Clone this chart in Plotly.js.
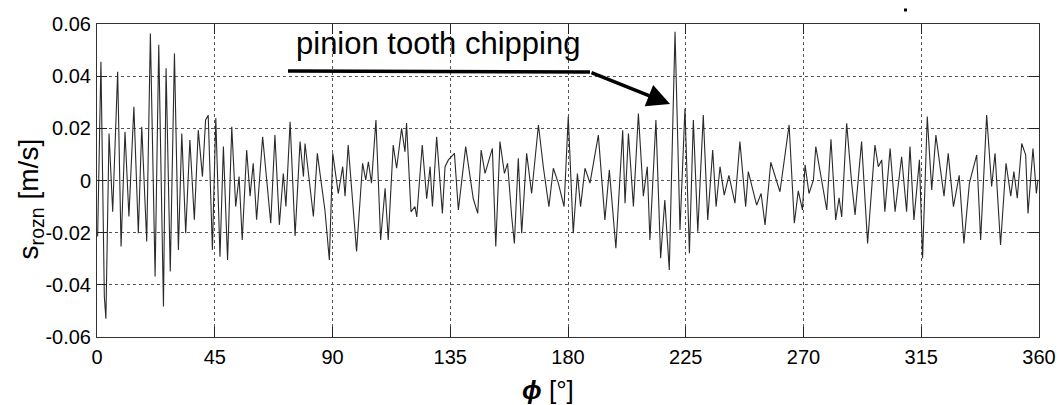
<!DOCTYPE html>
<html>
<head>
<meta charset="utf-8">
<script src="https://cdn.plot.ly/plotly-3.0.1.min.js"></script>
<style>
html,body{margin:0;padding:0;background:#fff;}
#chart{width:1060px;height:405px;}
</style>
</head>
<body>
<div id="chart"></div>
<script>
// angle phi [deg] and signal s_rozn [m/s] (extrema)
const phi = [
0.25,1.5,2.8,3.4,4.6,6.0,7.9,9.2,10.7,12.2,14.1,15.8,17.1,19.0,20.4,22.2,23.6,25.4,26.4,28.0,29.6,31.1,32.4,33.9,35.5,37.2,38.7,40.3,41.5,42.5,44.1,45.4,47.0,48.3,49.9,51.5,53.0,54.3,55.5,57.2,58.5,59.7,
61.0,63.3,66.4,68.0,69.7,71.2,72.2,73.8,75.7,77.6,78.9,79.5,82.7,84.2,87.1,88.8,90.1,92.2,93.9,94.8,96.0,98.0,99.2,101.5,102.7,103.7,104.9,106.6,108.4,110.1,111.3,113.2,114.5,116.4,117.7,118.3,
120.0,121.5,122.2,124.3,126.0,127.3,128.2,129.8,131.1,132.0,133.0,134.3,136.6,138.1,140.9,143.8,145.5,146.8,148.3,151.1,152.4,154.0,155.7,156.9,158.5,159.5,161.0,162.3,164.2,166.1,168.7,170.6,172.7,174.4,176.3,
178.5,180.1,182.0,183.6,184.8,186.5,188.4,191.6,194.1,195.8,198.3,200.9,201.8,203.1,205.0,206.9,208.8,210.3,211.3,213.6,215.4,217.0,218.7,220.9,222.8,224.7,226.4,227.9,229.6,231.7,233.4,235.3,236.6,
238.1,239.7,241.5,243.8,245.7,247.9,248.9,250.4,252.1,253.8,255.3,257.5,261.0,264.5,266.5,268.0,269.6,270.6,272.1,273.8,274.7,278.9,280.5,282.3,283.6,284.6,286.5,288.4,289.7,292.2,294.5,
297.3,298.6,299.9,301.1,303.1,305.0,307.5,309.4,310.7,312.2,314.3,315.5,317.3,319.0,320.6,323.7,325.3,327.3,329.5,331.3,333.4,336.2,337.7,340.0,341.9,343.2,345.3,347.4,349.2,350.4,351.7,353.4,354.9,355.8,357.7,359.0,359.6
];
const sRozn = [
-0.0215,0.0455,-0.0445,-0.053,0.018,-0.012,0.0417,-0.0253,0.0187,-0.0138,0.0283,-0.0202,0.0206,-0.0234,0.0564,-0.0368,0.052,-0.0483,0.043,-0.0349,0.0487,-0.0266,0.018,-0.0202,0.0155,-0.015,0.0193,0.0015,0.0232,0.025,-0.0266,0.024,-0.0292,0.013,-0.0305,0.0206,-0.01,0.0015,-0.0228,0.0117,-0.006,0.0066,
-0.015,0.0168,-0.0164,0.0174,-0.017,0.0027,-0.01,0.0225,-0.0213,0.0149,0.0015,0.0142,-0.0138,0.0104,-0.0113,-0.0305,0.0104,-0.005,0.0053,-0.006,0.0136,-0.01,-0.0272,0.0066,0.0002,0.0072,-0.001,0.0232,-0.0228,-0.003,-0.0228,0.0136,0.0047,0.02,0.011,0.022,
-0.012,-0.01,-0.014,0.0136,-0.007,0.0053,-0.01,0.0168,-0.0025,-0.0126,0.0053,0.0079,0.0104,-0.0113,0.013,-0.007,-0.0126,0.0117,0.0027,0.0123,-0.0253,0.0149,0.0027,0.0066,-0.014,-0.0241,0.0085,-0.0202,0.0104,-0.005,0.0213,0.005,-0.01,0.0047,-0.001,
-0.01,0.0245,-0.0202,0.0027,-0.01,0.0047,-0.001,0.0174,-0.0151,0.004,-0.026,0.0193,-0.0087,0.018,-0.01,0.0257,-0.006,0.0053,-0.0228,0.0232,-0.0298,-0.0075,-0.0343,0.057,-0.019,0.0276,-0.0279,0.0232,-0.0196,0.0251,-0.0151,0.0117,-0.01,
0.0053,-0.0056,0.002,-0.0087,0.0149,-0.01,0.0034,-0.0023,-0.0094,-0.005,-0.017,0.007,-0.0043,0.0213,-0.0164,-0.004,-0.0113,0.006,-0.005,0.0002,0.013,-0.0113,0.0158,-0.0151,-0.0066,-0.014,0.0219,-0.001,-0.0132,0.0149,-0.0241,
0.0136,0.0053,0.0079,-0.012,0.0123,-0.012,0.0091,-0.012,0.013,-0.0151,0.0079,-0.0298,0.0245,-0.0036,0.0174,-0.006,0.0104,-0.01,0.002,-0.0241,-0.001,0.0098,-0.0228,0.0251,-0.0023,0.0104,-0.0247,0.0066,-0.006,0.0034,-0.0068,0.0142,0.0098,-0.0126,0.0123,-0.005,0.0003
];
const xTicks = [0,45,90,135,180,225,270,315,360];
const yTicks = [-0.06,-0.04,-0.02,0,0.02,0.04,0.06];
const yTickText = ['-0.06','-0.04','-0.02','0','0.02','0.04','0.06'];
const noteText = 'pinion tooth chipping';
// arrow path of the note, in data units
const noteLineStart = [73.0, 0.042];
const noteBend = [188.4, 0.0416];
const noteTip = [219.0, 0.0293];

const FONT = 'Liberation Sans, Arial, sans-serif';

const trace = {
  x: phi, y: sRozn, type: 'scatter', mode: 'lines',
  line: {color: '#2a2a2a', width: 1.1},
  hoverinfo: 'skip'
};

const axisCommon = {
  showline: true, linecolor: '#333', linewidth: 1, mirror: 'ticks',
  ticks: 'inside', ticklen: 10, tickcolor: '#222', tickwidth: 1,
  showgrid: true, gridcolor: '#555', griddash: 'dot', gridwidth: 1,
  zeroline: false,
  tickfont: {family: FONT, size: 20, color: '#000'}
};

const layout = {
  width: 1060, height: 405,
  margin: {l: 97, r: 21, t: 24, b: 68},
  paper_bgcolor: '#fff', plot_bgcolor: '#fff',
  showlegend: false,
  font: {family: FONT, color: '#000'},
  xaxis: Object.assign({}, axisCommon, {
    range: [0, 360], tickmode: 'array', tickvals: xTicks,
    ticktext: xTicks.map(String), ticklabelstandoff: 2
  }),
  yaxis: Object.assign({}, axisCommon, {
    range: [-0.06, 0.06], tickmode: 'array', tickvals: yTicks,
    ticktext: yTickText, ticklabelstandoff: 1
  }),
  shapes: [
    {type: 'line', xref: 'x', yref: 'y',
     x0: noteLineStart[0], y0: noteLineStart[1], x1: noteBend[0], y1: noteBend[1],
     line: {color: '#000', width: 3.5}},
    {type: 'rect', xref: 'paper', yref: 'paper',
     x0: 0.8567, x1: 0.8599, y0: 1.040, y1: 1.0495,
     fillcolor: '#000', line: {width: 0}}
  ],
  annotations: [
    {x: 130.5, y: 0.0525, xref: 'x', yref: 'y', xanchor: 'center', yanchor: 'middle',
     text: noteText, showarrow: false,
     font: {family: FONT, size: 31, color: '#000'}},
    {x: noteTip[0], y: noteTip[1], xref: 'x', yref: 'y',
     ax: noteBend[0], ay: noteBend[1], axref: 'x', ayref: 'y',
     text: '', showarrow: true, arrowhead: 2, arrowsize: 1.3, arrowwidth: 3.5, arrowcolor: '#000'},
    {x: -0.071, y: 0.44, xref: 'paper', yref: 'paper', textangle: -90,
     xanchor: 'center', yanchor: 'middle',
     text: 's<sub>rozn</sub> [m/s]', showarrow: false,
     font: {family: FONT, size: 28, color: '#000'}},
    {x: 0.479, y: -0.17, xref: 'paper', yref: 'paper',
     xanchor: 'center', yanchor: 'middle',
     text: '<b><i>ϕ</i></b> [°]', showarrow: false,
     font: {family: FONT, size: 26, color: '#000'}}
  ]
};

Plotly.newPlot('chart', [trace], layout, {staticPlot: true, displayModeBar: false});
</script>
</body>
</html>
